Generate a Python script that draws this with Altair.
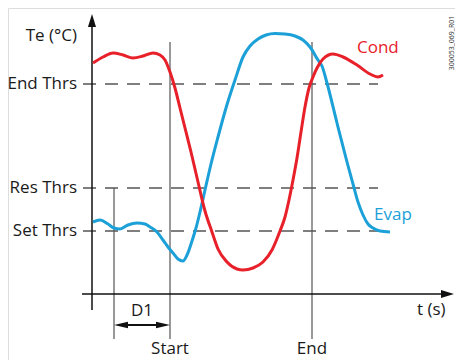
import altair as alt
import pandas as pd

# ---- schematic data (t in s, Te in °C, arbitrary schematic units) ----
cond_t = [1, 11, 21, 31, 41, 51, 61, 68, 73, 78, 83, 88, 93, 99, 106, 113, 120, 126, 135, 145,
          151, 161, 171, 180, 188, 193, 197, 201, 205, 209, 213, 217, 221, 225, 231, 241, 251,
          265, 278, 286, 291]
cond_te = [231, 237, 241, 239, 236, 238, 241, 239, 234, 222, 206, 186, 166, 142, 112, 83, 62, 45,
           32, 25, 24, 26, 32, 44, 63, 77, 94, 114, 136, 162, 187, 206, 217, 226, 235, 240, 237,
           229, 220, 217, 219]

evap_t = [1, 8, 16, 22, 28, 36, 45, 53, 58, 65, 71, 76, 81, 86, 91, 95, 100, 104, 108, 113,
          119, 126, 134, 143, 151, 158, 166, 174, 183, 193, 203, 211, 218, 226, 230, 235, 245,
          255, 261, 266, 271, 276, 281, 288, 298]
evap_te = [72, 74, 70, 66, 65, 69, 71, 70, 67, 62, 54, 47, 41, 35, 33, 39, 53, 66, 82, 104,
           130, 157, 186, 214, 237, 248, 255, 259, 260.5, 260, 258, 254, 247, 234, 228, 211, 171,
           132, 110, 92, 79, 70, 66, 63, 62]

thr_names = ["End Thrs", "Res Thrs", "Set Thrs"]
thr_values = [210, 106, 63]
event_names = ["Start", "End"]
event_t = [78, 220]
d1_t = 22

xs = alt.Scale(domain=[-84, 363], nice=False, zero=False)
ys = alt.Scale(domain=[-66, 286], nice=False, zero=False)

FONT = "Open Sans"
TXT = "#1a1a1a"
RED = "#E8202A"
BLUE = "#1BA0D8"
GREY = "#555555"

thr_df = pd.DataFrame({"name": thr_names, "Te": thr_values})
ev_df = pd.DataFrame({"name": event_names, "t": event_t})
one = pd.DataFrame({"k": [0]})


def X(v):
    return alt.X(datum=v, scale=xs, axis=None)


def Y(v):
    return alt.Y(datum=v, scale=ys, axis=None)


# threshold dashed lines
thr_lines = alt.Chart(thr_df).mark_rule(color=GREY, strokeWidth=1.3, strokeDash=[13, 9]).encode(
    x=X(-9), x2=alt.datum(286), y=alt.Y("Te:Q", scale=ys, axis=None)
)
thr_text = alt.Chart(thr_df).mark_text(
    align="right", baseline="middle", font=FONT, fontSize=17, color=TXT
).encode(x=X(-15), y=alt.Y("Te:Q", scale=ys, axis=None), text="name:N")

# event vertical lines
ev_lines = alt.Chart(ev_df).mark_rule(color=GREY, strokeWidth=1.2).encode(
    x=alt.X("t:Q", scale=xs, axis=None), y=Y(252), y2=alt.datum(-45)
)
ev_text = alt.Chart(ev_df).mark_text(
    align="center", baseline="middle", font=FONT, fontSize=17, color=TXT
).encode(x=alt.X("t:Q", scale=xs, axis=None), y=Y(-55), text="name:N")

d1_line = alt.Chart(one).mark_rule(color=GREY, strokeWidth=1.2).encode(
    x=X(d1_t), y=Y(thr_values[1]), y2=alt.datum(-45)
)
d1_shaft = alt.Chart(one).mark_rule(color="#111", strokeWidth=2).encode(
    x=X(d1_t + 6), x2=alt.datum(event_t[0] - 6), y=Y(-31)
)
d1_left = alt.Chart(one).mark_point(
    shape="M0,0L2,-0.45L2,0.45Z", size=196, filled=True, opacity=1, color="#111", strokeWidth=0
).encode(x=X(d1_t), y=Y(-31))
d1_right = alt.Chart(one).mark_point(
    shape="M0,0L-2,-0.45L-2,0.45Z", size=196, filled=True, opacity=1, color="#111", strokeWidth=0
).encode(x=X(event_t[0]), y=Y(-31))
d1_text = alt.Chart(one).mark_text(
    align="center", baseline="middle", font=FONT, fontSize=17, color=TXT
).encode(x=X((d1_t + event_t[0]) / 2), y=Y(-17), text=alt.value("D1"))

# axes
x_axis = alt.Chart(one).mark_rule(color="#111", strokeWidth=1.5).encode(
    x=X(-10), x2=alt.datum(352), y=Y(0)
)
y_axis = alt.Chart(one).mark_rule(color="#111", strokeWidth=1.5).encode(
    x=X(0), y=Y(-16), y2=alt.datum(270)
)
x_arrow = alt.Chart(one).mark_point(
    shape="M0,0L-2,-0.62L-2,0.62Z", size=169, filled=True, opacity=1, color="#111", strokeWidth=0
).encode(x=X(362), y=Y(0))
y_arrow = alt.Chart(one).mark_point(
    shape="M0,0L-0.62,2L0.62,2Z", size=169, filled=True, opacity=1, color="#111", strokeWidth=0
).encode(x=X(0), y=Y(280))

te_label = alt.Chart(one).mark_text(
    align="right", baseline="middle", font=FONT, fontSize=17, color=TXT
).encode(x=X(-15), y=Y(258), text=alt.value("Te (°C)"))
t_label = alt.Chart(one).mark_text(
    align="left", baseline="middle", font=FONT, fontSize=17, color=TXT
).encode(x=X(325), y=Y(-16), text=alt.value("t (s)"))

# curves
cond_df = pd.DataFrame({"t": cond_t, "Te": cond_te})
evap_df = pd.DataFrame({"t": evap_t, "Te": evap_te})
cond_line = alt.Chart(cond_df).mark_line(interpolate="monotone", color=RED, strokeWidth=3).encode(
    x=alt.X("t:Q", scale=xs, axis=None), y=alt.Y("Te:Q", scale=ys, axis=None), order="t:Q"
)
evap_line = alt.Chart(evap_df).mark_line(interpolate="monotone", color=BLUE, strokeWidth=3).encode(
    x=alt.X("t:Q", scale=xs, axis=None), y=alt.Y("Te:Q", scale=ys, axis=None), order="t:Q"
)
cond_label = alt.Chart(one).mark_text(
    align="left", baseline="middle", font=FONT, fontSize=17, color=RED
).encode(x=X(265), y=Y(246), text=alt.value("Cond"))
evap_label = alt.Chart(one).mark_text(
    align="left", baseline="middle", font=FONT, fontSize=17, color=BLUE
).encode(x=X(282), y=Y(79), text=alt.value("Evap"))

code_label = alt.Chart(one).mark_text(
    align="center", baseline="middle", font=FONT, fontSize=7, color="#333", angle=270
).encode(x=X(360), y=Y(251), text=alt.value("300053_069_R01"))

chart = alt.layer(
    thr_lines, ev_lines, d1_line, x_axis, y_axis, x_arrow, y_arrow,
    d1_shaft, d1_left, d1_right,
    evap_line, cond_line,
    thr_text, ev_text, d1_text, te_label, t_label, cond_label, evap_label, code_label,
).properties(
    width=447, height=352, padding=0, autosize=alt.AutoSizeParams(type="none")
).configure_view(stroke=None).configure(background="white")

chart.save("out.html", embed_options={"renderer": "svg", "actions": False})
